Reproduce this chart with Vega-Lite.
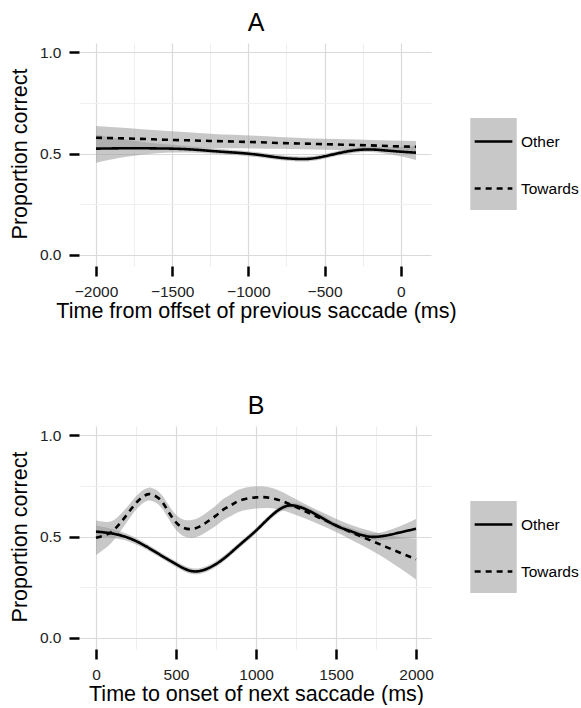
{
  "$schema": "https://vega.github.io/schema/vega-lite/v6.json",
  "background": "white",
  "padding": {"left": 9, "top": 11, "right": 0, "bottom": 0},
  "spacing": 72,
  "datasets": {
    "A": [
      {"g": "Other", "t": -2000, "y": 0.524, "lo": 0.454, "hi": 0.594},
      {"g": "Other", "t": -1900, "y": 0.525, "lo": 0.470, "hi": 0.580},
      {"g": "Other", "t": -1800, "y": 0.526, "lo": 0.484, "hi": 0.568},
      {"g": "Other", "t": -1700, "y": 0.526, "lo": 0.494, "hi": 0.558},
      {"g": "Other", "t": -1600, "y": 0.525, "lo": 0.501, "hi": 0.549},
      {"g": "Other", "t": -1500, "y": 0.524, "lo": 0.505, "hi": 0.543},
      {"g": "Other", "t": -1400, "y": 0.521, "lo": 0.505, "hi": 0.537},
      {"g": "Other", "t": -1300, "y": 0.516, "lo": 0.502, "hi": 0.530},
      {"g": "Other", "t": -1200, "y": 0.510, "lo": 0.497, "hi": 0.523},
      {"g": "Other", "t": -1100, "y": 0.505, "lo": 0.493, "hi": 0.517},
      {"g": "Other", "t": -1000, "y": 0.499, "lo": 0.487, "hi": 0.511},
      {"g": "Other", "t": -900, "y": 0.490, "lo": 0.478, "hi": 0.502},
      {"g": "Other", "t": -800, "y": 0.480, "lo": 0.468, "hi": 0.492},
      {"g": "Other", "t": -700, "y": 0.474, "lo": 0.462, "hi": 0.486},
      {"g": "Other", "t": -600, "y": 0.474, "lo": 0.462, "hi": 0.486},
      {"g": "Other", "t": -500, "y": 0.486, "lo": 0.474, "hi": 0.498},
      {"g": "Other", "t": -400, "y": 0.503, "lo": 0.491, "hi": 0.515},
      {"g": "Other", "t": -300, "y": 0.516, "lo": 0.504, "hi": 0.528},
      {"g": "Other", "t": -200, "y": 0.520, "lo": 0.507, "hi": 0.533},
      {"g": "Other", "t": -100, "y": 0.515, "lo": 0.499, "hi": 0.531},
      {"g": "Other", "t": 0, "y": 0.509, "lo": 0.486, "hi": 0.532},
      {"g": "Other", "t": 100, "y": 0.504, "lo": 0.468, "hi": 0.540},
      {"g": "Towards", "t": -2000, "y": 0.578, "lo": 0.520, "hi": 0.636},
      {"g": "Towards", "t": -1850, "y": 0.575, "lo": 0.522, "hi": 0.628},
      {"g": "Towards", "t": -1700, "y": 0.572, "lo": 0.524, "hi": 0.620},
      {"g": "Towards", "t": -1550, "y": 0.568, "lo": 0.524, "hi": 0.612},
      {"g": "Towards", "t": -1400, "y": 0.565, "lo": 0.525, "hi": 0.605},
      {"g": "Towards", "t": -1250, "y": 0.562, "lo": 0.526, "hi": 0.598},
      {"g": "Towards", "t": -1100, "y": 0.559, "lo": 0.526, "hi": 0.592},
      {"g": "Towards", "t": -950, "y": 0.556, "lo": 0.525, "hi": 0.587},
      {"g": "Towards", "t": -800, "y": 0.552, "lo": 0.523, "hi": 0.581},
      {"g": "Towards", "t": -650, "y": 0.549, "lo": 0.521, "hi": 0.577},
      {"g": "Towards", "t": -500, "y": 0.546, "lo": 0.519, "hi": 0.573},
      {"g": "Towards", "t": -350, "y": 0.543, "lo": 0.516, "hi": 0.570},
      {"g": "Towards", "t": -200, "y": 0.540, "lo": 0.513, "hi": 0.567},
      {"g": "Towards", "t": -50, "y": 0.536, "lo": 0.508, "hi": 0.564},
      {"g": "Towards", "t": 100, "y": 0.533, "lo": 0.504, "hi": 0.562}
    ],
    "B": [
      {"g": "Other", "t": 0, "y": 0.524, "lo": 0.494, "hi": 0.554},
      {"g": "Other", "t": 100, "y": 0.515, "lo": 0.493, "hi": 0.537},
      {"g": "Other", "t": 200, "y": 0.494, "lo": 0.477, "hi": 0.511},
      {"g": "Other", "t": 300, "y": 0.457, "lo": 0.442, "hi": 0.472},
      {"g": "Other", "t": 400, "y": 0.410, "lo": 0.396, "hi": 0.424},
      {"g": "Other", "t": 500, "y": 0.364, "lo": 0.350, "hi": 0.378},
      {"g": "Other", "t": 600, "y": 0.329, "lo": 0.315, "hi": 0.343},
      {"g": "Other", "t": 700, "y": 0.343, "lo": 0.329, "hi": 0.357},
      {"g": "Other", "t": 800, "y": 0.392, "lo": 0.378, "hi": 0.406},
      {"g": "Other", "t": 900, "y": 0.460, "lo": 0.446, "hi": 0.474},
      {"g": "Other", "t": 1000, "y": 0.529, "lo": 0.515, "hi": 0.543},
      {"g": "Other", "t": 1100, "y": 0.605, "lo": 0.591, "hi": 0.619},
      {"g": "Other", "t": 1200, "y": 0.652, "lo": 0.638, "hi": 0.666},
      {"g": "Other", "t": 1300, "y": 0.638, "lo": 0.624, "hi": 0.652},
      {"g": "Other", "t": 1400, "y": 0.598, "lo": 0.584, "hi": 0.612},
      {"g": "Other", "t": 1500, "y": 0.554, "lo": 0.540, "hi": 0.568},
      {"g": "Other", "t": 1600, "y": 0.524, "lo": 0.509, "hi": 0.539},
      {"g": "Other", "t": 1700, "y": 0.500, "lo": 0.484, "hi": 0.516},
      {"g": "Other", "t": 1800, "y": 0.503, "lo": 0.483, "hi": 0.523},
      {"g": "Other", "t": 1900, "y": 0.520, "lo": 0.490, "hi": 0.550},
      {"g": "Other", "t": 2000, "y": 0.538, "lo": 0.490, "hi": 0.586},
      {"g": "Towards", "t": 0, "y": 0.494, "lo": 0.409, "hi": 0.579},
      {"g": "Towards", "t": 50, "y": 0.505, "lo": 0.437, "hi": 0.573},
      {"g": "Towards", "t": 100, "y": 0.524, "lo": 0.472, "hi": 0.576},
      {"g": "Towards", "t": 150, "y": 0.565, "lo": 0.523, "hi": 0.607},
      {"g": "Towards", "t": 200, "y": 0.615, "lo": 0.579, "hi": 0.651},
      {"g": "Towards", "t": 250, "y": 0.665, "lo": 0.632, "hi": 0.698},
      {"g": "Towards", "t": 300, "y": 0.700, "lo": 0.668, "hi": 0.732},
      {"g": "Towards", "t": 330, "y": 0.709, "lo": 0.677, "hi": 0.741},
      {"g": "Towards", "t": 350, "y": 0.707, "lo": 0.675, "hi": 0.739},
      {"g": "Towards", "t": 400, "y": 0.683, "lo": 0.651, "hi": 0.715},
      {"g": "Towards", "t": 450, "y": 0.626, "lo": 0.592, "hi": 0.660},
      {"g": "Towards", "t": 500, "y": 0.570, "lo": 0.533, "hi": 0.607},
      {"g": "Towards", "t": 550, "y": 0.542, "lo": 0.501, "hi": 0.583},
      {"g": "Towards", "t": 600, "y": 0.537, "lo": 0.493, "hi": 0.581},
      {"g": "Towards", "t": 650, "y": 0.550, "lo": 0.504, "hi": 0.596},
      {"g": "Towards", "t": 700, "y": 0.575, "lo": 0.527, "hi": 0.623},
      {"g": "Towards", "t": 750, "y": 0.603, "lo": 0.553, "hi": 0.653},
      {"g": "Towards", "t": 800, "y": 0.635, "lo": 0.583, "hi": 0.687},
      {"g": "Towards", "t": 850, "y": 0.657, "lo": 0.603, "hi": 0.711},
      {"g": "Towards", "t": 900, "y": 0.678, "lo": 0.623, "hi": 0.733},
      {"g": "Towards", "t": 1000, "y": 0.693, "lo": 0.638, "hi": 0.748},
      {"g": "Towards", "t": 1100, "y": 0.689, "lo": 0.639, "hi": 0.739},
      {"g": "Towards", "t": 1200, "y": 0.663, "lo": 0.621, "hi": 0.705},
      {"g": "Towards", "t": 1300, "y": 0.627, "lo": 0.591, "hi": 0.663},
      {"g": "Towards", "t": 1400, "y": 0.591, "lo": 0.558, "hi": 0.624},
      {"g": "Towards", "t": 1500, "y": 0.555, "lo": 0.522, "hi": 0.588},
      {"g": "Towards", "t": 1600, "y": 0.519, "lo": 0.482, "hi": 0.556},
      {"g": "Towards", "t": 1700, "y": 0.486, "lo": 0.441, "hi": 0.531},
      {"g": "Towards", "t": 1800, "y": 0.453, "lo": 0.395, "hi": 0.511},
      {"g": "Towards", "t": 1900, "y": 0.420, "lo": 0.343, "hi": 0.497},
      {"g": "Towards", "t": 2000, "y": 0.388, "lo": 0.288, "hi": 0.488}
    ]
  },
  "vconcat": [
    {
      "width": 352,
      "height": 223,
      "title": {"text": "A", "fontSize": 25, "fontWeight": "normal", "anchor": "middle", "offset": -14, "baseline": "alphabetic", "color": "black", "font": "Liberation Sans"},
      "data": {"name": "A"},
      "layer": [
        {
          "mark": {"type": "area", "opacity": 0.55, "interpolate": "natural"},
          "encoding": {
            "x": {"field": "t", "type": "quantitative", "title": "Time from offset of previous saccade (ms)",
              "scale": {"domain": [-2105, 205], "nice": false, "zero": false},
              "axis": {"values": [-2000, -1750, -1500, -1250, -1000, -750, -500, -250, 0], "format": "d",
                "labelExpr": "datum.value % 500 === 0 ? datum.label : ''",
                "tickColor": {"condition": {"test": "datum.value % 500 !== 0", "value": "transparent"}, "value": "black"},
                "gridColor": {"condition": {"test": "datum.value % 500 !== 0", "value": "#efefef"}, "value": "#dadada"}}},
            "y": {"field": "lo", "type": "quantitative", "title": "Proportion correct",
              "scale": {"domain": [-0.05, 1.05], "nice": false, "zero": false},
              "axis": {"values": [0, 0.25, 0.5, 0.75, 1], "format": ".1f",
                "labelExpr": "datum.value == 0.25 || datum.value == 0.75 ? '' : datum.label",
                "tickColor": {"condition": {"test": "datum.value == 0.25 || datum.value == 0.75", "value": "transparent"}, "value": "black"},
                "gridColor": {"condition": {"test": "datum.value == 0.25 || datum.value == 0.75", "value": "#efefef"}, "value": "#dadada"}}},
            "y2": {"field": "hi"},
            "fill": {"field": "g", "type": "nominal",
              "scale": {"domain": ["Other", "Towards"], "range": ["#9a9a9a", "#9a9a9a"]},
              "legend": {"orient": "none", "legendX": 390.5, "legendY": 76, "title": null, "padding": 0,
                "symbolType": "M-1.009,-1H1.009V1H-1.009Z", "symbolSize": 2116, "symbolStrokeWidth": 0,
                "rowPadding": 0, "labelExpr": "''", "labelFontSize": 1, "zindex": 0,
                "encode": {"symbols": {"update": {"fill": {"value": "#c0c0c0"}, "opacity": {"value": 1}, "fillOpacity": {"value": 1}}}}}}
          }
        },
        {
          "mark": {"type": "line", "color": "black", "strokeWidth": 2.6, "interpolate": "natural"},
          "encoding": {
            "x": {"field": "t", "type": "quantitative", "title": "Time from offset of previous saccade (ms)"},
            "y": {"field": "y", "type": "quantitative", "title": "Proportion correct"},
            "strokeDash": {"field": "g", "type": "nominal", "scale": {"range": [[1, 0], [6, 5]]},
              "legend": {"orient": "none", "legendX": 393, "legendY": 79, "title": null, "padding": 0,
                "symbolType": "stroke", "symbolSize": 1421, "symbolStrokeWidth": 2.6, "symbolStrokeColor": "black",
                "rowPadding": 18, "labelFontSize": 15.5, "labelColor": "black", "labelOffset": 7, "zindex": 1}}
          }
        }
      ]
    },
    {
      "width": 352,
      "height": 223,
      "title": {"text": "B", "fontSize": 25, "fontWeight": "normal", "anchor": "middle", "offset": -14, "baseline": "alphabetic", "color": "black", "font": "Liberation Sans"},
      "data": {"name": "B"},
      "layer": [
        {
          "mark": {"type": "area", "opacity": 0.55, "interpolate": "natural"},
          "encoding": {
            "x": {"field": "t", "type": "quantitative", "title": "Time to onset of next saccade (ms)",
              "scale": {"domain": [-100, 2100], "nice": false, "zero": false},
              "axis": {"values": [0, 250, 500, 750, 1000, 1250, 1500, 1750, 2000], "format": "d",
                "labelExpr": "datum.value % 500 === 0 ? datum.label : ''",
                "tickColor": {"condition": {"test": "datum.value % 500 !== 0", "value": "transparent"}, "value": "black"},
                "gridColor": {"condition": {"test": "datum.value % 500 !== 0", "value": "#efefef"}, "value": "#dadada"}}},
            "y": {"field": "lo", "type": "quantitative", "title": "Proportion correct",
              "scale": {"domain": [-0.05, 1.05], "nice": false, "zero": false},
              "axis": {"values": [0, 0.25, 0.5, 0.75, 1], "format": ".1f",
                "labelExpr": "datum.value == 0.25 || datum.value == 0.75 ? '' : datum.label",
                "tickColor": {"condition": {"test": "datum.value == 0.25 || datum.value == 0.75", "value": "transparent"}, "value": "black"},
                "gridColor": {"condition": {"test": "datum.value == 0.25 || datum.value == 0.75", "value": "#efefef"}, "value": "#dadada"}}},
            "y2": {"field": "hi"},
            "fill": {"field": "g", "type": "nominal",
              "scale": {"domain": ["Other", "Towards"], "range": ["#9a9a9a", "#9a9a9a"]},
              "legend": {"orient": "none", "legendX": 390.5, "legendY": 76, "title": null, "padding": 0,
                "symbolType": "M-1.009,-1H1.009V1H-1.009Z", "symbolSize": 2116, "symbolStrokeWidth": 0,
                "rowPadding": 0, "labelExpr": "''", "labelFontSize": 1, "zindex": 0,
                "encode": {"symbols": {"update": {"fill": {"value": "#c0c0c0"}, "opacity": {"value": 1}, "fillOpacity": {"value": 1}}}}}}
          }
        },
        {
          "mark": {"type": "line", "color": "black", "strokeWidth": 2.6, "interpolate": "natural"},
          "encoding": {
            "x": {"field": "t", "type": "quantitative", "title": "Time to onset of next saccade (ms)"},
            "y": {"field": "y", "type": "quantitative", "title": "Proportion correct"},
            "strokeDash": {"field": "g", "type": "nominal", "scale": {"range": [[1, 0], [6, 5]]},
              "legend": {"orient": "none", "legendX": 393, "legendY": 79, "title": null, "padding": 0,
                "symbolType": "stroke", "symbolSize": 1421, "symbolStrokeWidth": 2.6, "symbolStrokeColor": "black",
                "rowPadding": 18, "labelFontSize": 15.5, "labelColor": "black", "labelOffset": 7, "zindex": 1}}
          }
        }
      ]
    }
  ],
  "resolve": {
    "scale": {"fill": "independent", "strokeDash": "independent", "x": "independent", "y": "independent"},
    "legend": {"fill": "independent", "strokeDash": "independent"}
  },
  "config": {
    "font": "Liberation Sans",
    "view": {"stroke": null},
    "axis": {
      "domain": false,
      "grid": true,
      "gridWidth": 1.2,
      "tickSize": 10,
      "tickWidth": 2.5,
      "offset": 1,
      "labelFont": "Liberation Sans",
      "labelFontSize": 15.5,
      "labelColor": "#222222",
      "titleFont": "Liberation Sans",
      "titleFontSize": 21.5,
      "titleFontWeight": "normal",
      "titleColor": "black"
    },
    "axisX": {"labelPadding": 8, "titlePadding": 1},
    "axisY": {"labelPadding": 8, "titlePadding": 8},
    "legend": {"labelFont": "Liberation Sans"}
  }
}
